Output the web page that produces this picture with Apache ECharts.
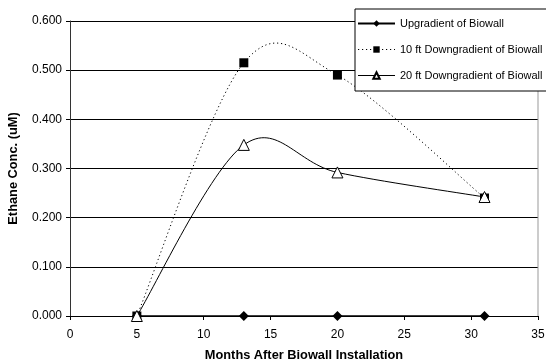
<!DOCTYPE html>
<html><head><meta charset="utf-8">
<script src="https://cdn.jsdelivr.net/npm/echarts@6/dist/echarts.min.js"></script>
<style>html,body{margin:0;padding:0;background:#fff}#c{width:546px;height:364px}</style>
</head><body><div id="c"></div>
<script>
const months = [5, 13, 20, 31];
const upgradient = [0, 0, 0, 0];
const down10 = [0, 0.515, 0.49, 0.24];
const down20 = [0, 0.348, 0.292, 0.242];
const seriesNames = ['Upgradient of Biowall', '10 ft Downgradient of Biowall', '20 ft Downgradient of Biowall'];
const xTitle = 'Months After Biowall Installation';
const yTitle = 'Ethane Conc. (uM)';

const pair = v => months.map((m, i) => [m, v[i]]);
const font = 'Liberation Sans, Arial, sans-serif';

// Excel-style smoothed curve: one cubic Bezier segment per data interval,
// positioned through the chart's own coordinate system (api.coord).
function smoothRenderer(values, dash) {
  return function (params, api) {
    const i = params.dataIndex;
    const n = months.length;
    if (i >= n - 1) return null;
    const pt = k => api.coord([months[Math.max(0, Math.min(n - 1, k))], values[Math.max(0, Math.min(n - 1, k))]]);
    const p0 = pt(i - 1), p1 = pt(i), p2 = pt(i + 1), p3 = pt(i + 2);
    return {
      type: 'bezierCurve',
      shape: {
        x1: p1[0], y1: p1[1], x2: p2[0], y2: p2[1],
        cpx1: p1[0] + (p2[0] - p0[0]) / 6, cpy1: p1[1] + (p2[1] - p0[1]) / 6,
        cpx2: p2[0] - (p3[0] - p1[0]) / 6, cpy2: p2[1] - (p3[1] - p1[1]) / 6
      },
      style: {stroke: '#000', lineWidth: 1, fill: null, lineDash: dash}
    };
  };
}

const chart = echarts.init(document.getElementById('c'), null, {renderer: 'canvas'});
chart.setOption({
  animation: false,
  backgroundColor: '#fff',
  grid: {left: 70, right: 8, top: 21, bottom: 48, containLabel: false, outerBoundsMode: 'none'},
  legend: {
    left: 355, top: 9, orient: 'vertical', itemWidth: 37, itemHeight: 8, itemGap: 15,
    padding: [9, 6, 10, 2], backgroundColor: '#fff', borderColor: '#000', borderWidth: 1,
    textStyle: {fontFamily: font, fontSize: 11, color: '#000'},
    data: [
      {name: seriesNames[0]},
      {name: seriesNames[1], lineStyle: {opacity: 1, width: 1, type: [1.2, 2.8], color: '#000'}},
      {name: seriesNames[2], lineStyle: {opacity: 1, width: 1, color: '#000'}}
    ]
  },
  xAxis: {
    type: 'value', min: 0, max: 35, interval: 5,
    name: xTitle, nameLocation: 'middle', nameGap: 33,
    nameTextStyle: {fontFamily: font, fontSize: 12.8, fontWeight: 'bold', color: '#000'},
    axisLine: {lineStyle: {color: '#000'}},
    axisTick: {show: true, length: 4, lineStyle: {color: '#000'}},
    axisLabel: {fontFamily: font, fontSize: 12, color: '#000', margin: 13},
    splitLine: {show: false}
  },
  yAxis: {
    type: 'value', min: 0, max: 0.6, interval: 0.1,
    name: yTitle, nameLocation: 'middle', nameGap: 50,
    nameTextStyle: {fontFamily: font, fontSize: 12.8, fontWeight: 'bold', color: '#000'},
    axisLine: {show: true, lineStyle: {color: '#333'}},
    axisTick: {show: true, length: 4, lineStyle: {color: '#000'}},
    axisLabel: {fontFamily: font, fontSize: 12, color: '#000', margin: 8, formatter: v => v.toFixed(3)},
    splitLine: {show: true, lineStyle: {color: '#000', width: 1}}
  },
  series: [
    {name: seriesNames[0], type: 'line', data: pair(upgradient), symbol: 'diamond', symbolSize: 10,
     itemStyle: {color: '#000'}, lineStyle: {color: '#000', width: 1.5}, z: 3},
    {type: 'custom', data: pair(down10), renderItem: smoothRenderer(down10, [1.2, 2.8]),
     encode: {x: 0, y: 1}, silent: true, z: 2},
    {type: 'custom', data: pair(down20), renderItem: smoothRenderer(down20, null),
     encode: {x: 0, y: 1}, silent: true, z: 2},
    {name: seriesNames[1], type: 'line', data: pair(down10), symbol: 'rect', symbolSize: 9,
     itemStyle: {color: '#000'}, lineStyle: {color: '#000', width: 1, opacity: 0}, z: 4},
    {name: seriesNames[2], type: 'line', data: pair(down20), symbol: 'triangle', symbolSize: 11,
     itemStyle: {color: '#fff', borderColor: '#000', borderWidth: 1}, lineStyle: {color: '#000', width: 1, opacity: 0}, z: 5},
    {type: 'line', data: [[35, 0], [35, 0.6]], symbol: 'none', silent: true,
     lineStyle: {color: '#999', width: 1}, tooltip: {show: false}}
  ]
});
</script></body></html>
